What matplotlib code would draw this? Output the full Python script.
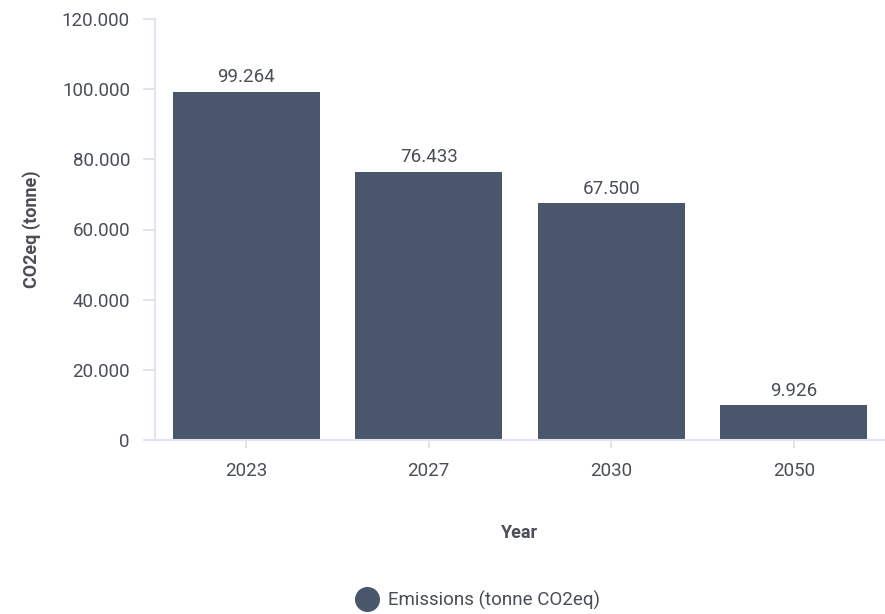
import matplotlib
matplotlib.use("Agg")
import matplotlib.pyplot as plt
from matplotlib.lines import Line2D
from matplotlib.ticker import FuncFormatter, FixedLocator

years = ["2023", "2027", "2030", "2050"]
emissions = [99264, 76433, 67500, 9926]
yticks = [0, 20000, 40000, 60000, 80000, 100000, 120000]
series_name = "Emissions (tonne CO2eq)"

BAR = "#4a566b"
TXT = "#4a4e56"
AXC = "#e1e4ef"
FS = 13.5

plt.rcParams['font.family'] = ['Roboto', 'DejaVu Sans']

def fmt(v, pos=None):
    return f"{v:,.0f}".replace(",", ".")

fig = plt.figure(figsize=(8.85, 6.14), dpi=100)
W, H = 885, 614
ax = fig.add_axes([155 / W, (H - 440) / H, (885 - 155) / W, (440 - 19) / H])

x = list(range(len(years)))
ax.bar(x, emissions, width=0.805, color=BAR, zorder=2)
ax.set_xlim(-0.5, len(years) - 0.5)
ax.set_ylim(0, 120000)

for xi, v in zip(x, emissions):
    ax.annotate(fmt(v), (xi, v), xytext=(0, 4), textcoords="offset points",
                ha="center", va="bottom", fontsize=FS, color=TXT)

ax.yaxis.set_major_locator(FixedLocator(yticks))
ax.yaxis.set_major_formatter(FuncFormatter(fmt))
ax.set_xticks(x)
ax.set_xticklabels(years)

for s in ["top", "right"]:
    ax.spines[s].set_visible(False)
for s in ["left", "bottom"]:
    ax.spines[s].set_color(AXC)
    ax.spines[s].set_linewidth(1.5)

ax.tick_params(axis="y", length=9, width=1.5, color=AXC, labelsize=FS,
               labelcolor=TXT, pad=9)
ax.tick_params(axis="x", length=6, width=1.5, color=AXC, labelsize=FS,
               labelcolor=TXT, pad=10)

fig.text(32 / W, 1 - 229 / H, "CO2eq (tonne)", rotation=90, ha="center", va="center",
         fontsize=13, fontweight="bold", color=TXT)
fig.text(520 / W, 1 - 533 / H, "Year", ha="center", va="center",
         fontsize=13, fontweight="bold", color=TXT)

handle = Line2D([], [], marker="o", linestyle="none", markersize=17,
                markerfacecolor=BAR, markeredgecolor=BAR)
leg = fig.legend([handle], [series_name], loc="center", bbox_to_anchor=(478 / W, 1 - 600 / H),
                 frameon=False, fontsize=FS, handletextpad=0.5, handlelength=1.2)
for t in leg.get_texts():
    t.set_color(TXT)

fig.savefig("out.png", dpi=100)
